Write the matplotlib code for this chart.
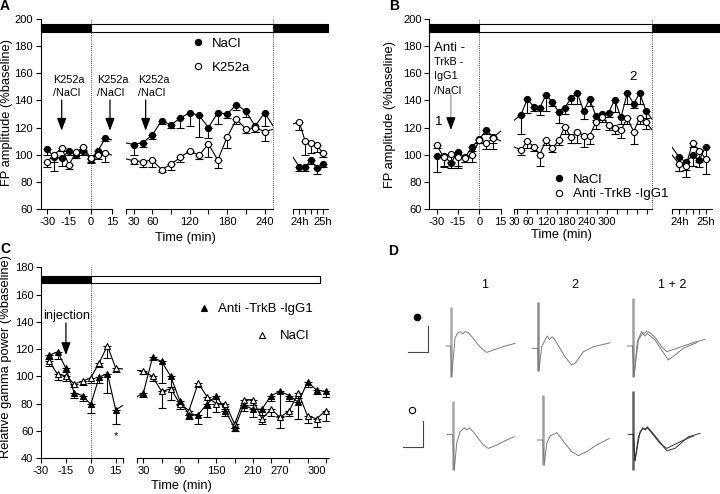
import numpy as np
import matplotlib
matplotlib.use('Agg')
import matplotlib.pyplot as plt
from matplotlib.patches import Rectangle
from matplotlib.lines import Line2D
from matplotlib.ticker import NullLocator

plt.rcParams['font.family'] = ['Liberation Sans', 'DejaVu Sans']
plt.rcParams['axes.linewidth'] = 0.8

# ---------------- data ----------------
A_time = [-30, -25, -20, -15, -10, -5, 0, 5, 10,
          30, 45, 60, 75, 90, 105, 120, 135, 150, 165, 180, 195, 210, 225, 240,
          1440, 1455, 1470, 1485, 1500]
A_nacl = [104, 98, 97.5, 103, 99.5, 103, 97, 103, 112,
          107.5, 109, 114.5, 125, 122, 127, 131, 129, 120, 131, 130, 137, 132, 121, 131,
          91, 91, 96, 90, 93]
A_nacl_sem = [4, 10, 6, 3, 2, 3, 3, 3, 2,
              8, 3, 3, 2, 2, 7, 10, 16, 8, 8, 3, 4, 4, 4, 10,
              3, 3, 3, 4, 2]
A_k252a = [95, 100, 105, 92.5, 102, 105.5, 97.5, 100, 101,
           95.5, 95, 96, 89, 93, 98, 103, 99.5, 108, 96, 113, 126, 119, 120, 117,
           124, 110, 109, 107, 101.5]
A_k252a_sem = [4, 5, 2, 3, 2, 2, 3, 3, 6,
               2, 4, 5, 2, 4, 3, 2, 3, 10, 6, 8, 3, 3, 3, 7,
               6, 10, 8, 5, 3]

B_time = [-30, -25, -20, -15, -10, -5, 0, 5, 10,
          43, 62, 81, 99, 118, 137, 156, 174, 193, 212, 231, 249, 268, 287, 306,
          324, 343, 362, 381, 399, 418,
          1440, 1455, 1470, 1485, 1500]
B_nacl = [99, 99, 94, 102, 98, 106, 111.5, 118, 113,
          129.5, 141, 135.5, 134.5, 144, 138.8, 131.5, 134.7, 141.5, 145.5, 132.4,
          140.8, 128.5, 129.7, 131, 140.5, 127.5, 145.5, 137.5, 145.5, 132.4,
          98, 94.5, 99.5, 96, 106]
B_nacl_sem = [12, 8, 4, 10, 3, 3, 3, 3, 4,
              14, 10, 3, 5, 12, 3, 8, 5, 4, 8, 6, 5, 3, 4, 3, 9, 5, 8, 3, 8, 5,
              10, 6, 8, 5, 10]
B_anti = [107, 98, 100.5, 98.5, 97.5, 100, 110.5, 108.5, 112.5,
          103.5, 110, 106, 100, 111, 104.7, 110.5, 120.5, 113, 117, 114, 114, 124,
          128, 122, 120, 118, 127, 117, 127, 124,
          93, 91.5, 109, 103, 97]
B_anti_sem = [2, 6, 6, 8, 3, 5, 2, 4, 8,
              4, 5, 3, 8, 4, 3, 3, 5, 4, 8, 8, 6, 5, 4, 4, 5, 6, 4, 9, 4, 5,
              5, 8, 3, 8, 11]

C_time = [-25, -20, -15, -10, -5, 0, 5, 10, 15,
          30, 45, 60, 75, 90, 105, 120, 135, 150, 165, 180, 195, 210, 225, 240,
          255, 270, 285, 300, 315, 330]
C_anti = [115.5, 118, 106, 88, 86, 79.5, 99.5, 102, 75.5,
          88, 114, 111, 100, 82, 72, 72, 80, 86, 75, 62, 79, 76, 76, 86, 89, 86,
          81, 96, 90, 89]
C_anti_sem = [3, 5, 3, 4, 4, 6, 4, 14, 10,
              3, 2, 16, 8, 3, 3, 7, 10, 6, 4, 2, 4, 6, 4, 4, 18, 4, 12, 4, 3, 4]
C_nacl = [111, 101.5, 100.5, 94.5, 96.5, 99, 110, 122.5, 106,
          104, 100, 89, 91, 80, 75, 95, 85, 80, 80, 65, 83, 83, 69, 76, 70, 75,
          88, 71, 69, 75]
C_nacl_sem = [3, 4, 4, 2, 3, 4, 3, 9, 3,
              2, 3, 12, 8, 4, 3, 3, 8, 6, 4, 3, 4, 4, 4, 5, 8, 4, 4, 5, 6, 8]

# Panel D traces (time in ms after stimulus, voltage in mV)
D_nacl_1_t = [-0.93, 0, 0.2, 0.87, 1.33, 1.87, 2.4, 2.87, 3.53, 4.53, 5.53, 6.53, 7.2, 8.53, 10.53, 12.87]
D_nacl_1_v = [0, 0, -1.53, 0.38, 0.63, 0.72, 0.6, 0.72, 0.67, 0.38, 0.05, -0.2, -0.32, -0.2, -0.03, 0.13]
D_nacl_2_t = [-1.07, 0, 0.27, 0.8, 1.47, 1.93, 2.33, 2.93, 3.47, 4.47, 5.47, 6.8, 7.47, 9.13, 11.13, 14.47]
D_nacl_2_v = [0, 0, -1.12, 0.08, 0.42, 0.62, 0.45, 0.58, 0.42, 0, -0.42, -0.83, -0.75, -0.17, 0.08, 0.28]
D_nacl_12a_t = [-1, 0, 0.27, 0.93, 1.8, 2.27, 2.8, 3.47, 4.47, 5.8, 6.8, 8.8, 12.13, 14.47]
D_nacl_12a_v = [0, 0, -1.53, 0.22, 0.72, 0.63, 0.72, 0.67, 0.43, -0.03, -0.28, -0.12, 0.17, 0.33]
D_nacl_12b_t = [0, 0.27, 1.13, 2, 2.47, 2.93, 4.47, 5.8, 7.13, 8.47, 10.13, 12.8]
D_nacl_12b_v = [0, -1.53, 0.3, 0.63, 0.5, 0.63, 0.3, -0.2, -0.7, -0.45, -0.12, 0.17]
D_anti_1_t = [-1.07, 0, 0.33, 0.8, 1.47, 2.33, 2.8, 3.33, 4.13, 5.13, 6.13, 7.13, 8.8, 10.8, 12.27]
D_anti_1_v = [0, 0, -1.78, -0.45, 0.13, 0.33, 0.22, 0.33, 0.13, -0.2, -0.53, -0.7, -0.53, -0.28, -0.12]
D_anti_2_t = [-1.07, 0, 0.33, 0.8, 1.47, 2.33, 2.8, 3.47, 4.47, 5.8, 7.13, 8.8, 10.8, 13.33]
D_anti_2_v = [0, 0, -1.25, -0.17, 0.2, 0.3, 0.37, 0.17, -0.17, -0.58, -0.78, -0.58, -0.25, 0.08]
D_anti_12a_t = [-1, 0, 0.33, 1, 1.87, 2.33, 2.8, 3.67, 5, 6.67, 8.33, 11, 13.33]
D_anti_12a_v = [0, 0, -1.32, -0.12, 0.33, 0.25, 0.38, 0.13, -0.28, -0.82, -0.7, -0.12, 0.05]
D_anti_12b_t = [0, 0.33, 1.33, 2, 2.4, 2.8, 4, 5.33, 6.67, 9.33, 12]
D_anti_12b_v = [0, -1.32, 0.13, 0.3, 0.22, 0.33, -0.03, -0.45, -0.7, -0.37, -0.08]
D_artifact = [(1.93, -1.53), (2.33, -1.12), (2.38, -1.53),
              (1.68, -1.78), (2.25, -1.25), (2.18, -1.78)]
D_scale_ms, D_scale_mv = 4.0, 1.3

# ---------------- layout helpers ----------------
W, H = 720, 494
fig = plt.figure(figsize=(7.2, 4.94), dpi=100)


def fx(x):
    return x / W


def fy(y):
    return 1 - y / H


def make_scale(segs):
    T, U = [], []
    t0, t1, u0, u1 = segs[0]
    s = (u1 - u0) / (t1 - t0)
    T.append(t0 - 1e4); U.append(u0 - 1e4 * s)
    for t0, t1, u0, u1 in segs:
        T += [t0, t1]; U += [u0, u1]
    t0, t1, u0, u1 = segs[-1]
    s = (u1 - u0) / (t1 - t0)
    T.append(t1 + 1e4); U.append(u1 + 1e4 * s)
    T = np.array(T, float); U = np.array(U, float)
    return (lambda t: np.interp(t, T, U)), (lambda u: np.interp(u, U, T))


def make_panel(segs, ylim, ytop, ybot, yticks, ticks_list, labels_list):
    fwd, inv = make_scale(segs)
    axes = []
    for i, (t0, t1, u0, u1) in enumerate(segs):
        ax = fig.add_axes([fx(u0), fy(ybot), (u1 - u0) / W, (ybot - ytop) / H])
        ax.set_xscale('function', functions=(fwd, inv))
        ax.set_xlim(t0, t1)
        ax.set_ylim(*ylim)
        ax.patch.set_visible(False)
        for sp in ['top', 'right']:
            ax.spines[sp].set_visible(False)
        ax.tick_params(direction='out', length=3.5, width=0.8, labelsize=8, pad=2)
        if i > 0:
            ax.spines['left'].set_visible(False)
            ax.tick_params(axis='y', left=False, labelleft=False)
        else:
            ax.set_yticks(yticks)
        ax.set_xticks(ticks_list[i])
        ax.set_xticklabels(labels_list[i])
        ax.xaxis.set_minor_locator(NullLocator())
        ax.yaxis.set_minor_locator(NullLocator())
        axes.append(ax)
    return axes


def plot_series(axes, t, y, err, marker, filled, ms, z):
    for ax in axes:
        ax.errorbar(t, y, yerr=[err, np.zeros(len(err))], fmt='none', ecolor='black',
                    elinewidth=0.8, capsize=2.8, capthick=0.8, zorder=2)
        ax.plot(t, y, '-', color='black', lw=0.8, marker=marker, ms=ms,
                mfc='black' if filled else 'white', mec='black', mew=0.8, zorder=z)


def legend_entry(marker, filled, label, xm, ym, fs=9.5, ms=4.5, pad=0.55):
    h = Line2D([], [], ls='none', marker=marker, ms=ms, mfc='black' if filled else 'white',
               mec='black', mew=0.8)
    fs_px = fs * 100 / 72
    fig.legend([h], [label], loc='center left', bbox_to_anchor=(fx(xm - fs_px / 2), fy(ym)),
               frameon=False, fontsize=fs, handlelength=1.0, handletextpad=pad,
               borderpad=0, borderaxespad=0, numpoints=1)


def arrow(ax, x, y_tail, y_tip, color='black', head=True):
    style = '-|>,head_length=0.75,head_width=0.28' if head else '-'
    ax.annotate('', xy=(x, y_tip), xytext=(x, y_tail),
                arrowprops=dict(arrowstyle=style, color=color, lw=0.9,
                                shrinkA=0, shrinkB=0))


def bars(ax, spans, y0, h):
    for t0, t1, fc in spans:
        ax.add_patch(Rectangle((t0, y0), t1 - t0, h, fc=fc, ec='black', lw=0.8,
                               clip_on=False, zorder=5))


def ftext(x, y, s, **kw):
    kw.setdefault('fontsize', 8)
    kw.setdefault('ha', 'left')
    kw.setdefault('va', 'center')
    fig.text(fx(x), fy(y), s, **kw)


def tick_label(ax, t, s, dx_pt, fs=7.5):
    ax.annotate(s, xy=(t, 0), xycoords=('data', 'axes fraction'),
                xytext=(dx_pt, -5.5), textcoords='offset points',
                ha='center', va='top', fontsize=fs)


MS = 4.4

# ---------------- Panel A ----------------
A_segs = [(-34.6, 15, 40.5, 112.45), (17.5, 253, 125.7, 272.7), (1424.6, 1514.4, 293.3, 328.3)]
A_ticks = [[-30, -15, 0, 15], [17.5, 30, 60, 90, 120, 150, 180, 210, 240],
           [1424.6, 1440, 1455, 1470, 1485, 1500]]
A_labels = [['-30', '-15', '0', '15'], ['', '30', '60', '', '120', '', '180', '', '240'],
            ['', '24h', '', '', '', '25h']]
axA = make_panel(A_segs, (60, 200), 19, 209, range(60, 201, 20), A_ticks, A_labels)
plot_series(axA, A_time, A_nacl, A_nacl_sem, 'o', True, MS, 3)
plot_series(axA, A_time, A_k252a, A_k252a_sem, 'o', False, MS, 4)
bars(axA[0], [(-34.6, 0, 'black'), (0, 253, 'white'), (253, 1514.4, 'black')], 190.6, 5.5)
axA[0].axvline(0, color='#444', ls=(0, (1, 1.2)), lw=0.7)
axA[1].axvline(253, color='#444', ls=(0, (1, 1.2)), lw=0.7, clip_on=False)
arrow(axA[0], -20, 140.3, 117.7)
arrow(axA[0], 13.3, 140.3, 117.7)
arrow(axA[1], 49.5, 140.3, 117.7)
for xl in (53, 97, 138):
    ftext(xl, 80, 'K252a', fontsize=7.8)
    ftext(xl, 92.5, '/NaCl', fontsize=7.8)
legend_entry('o', True, 'NaCl', 198, 44)
legend_entry('o', False, 'K252a', 198, 68)
ftext(7.5, 113, 'FP amplitude (%baseline)', fontsize=9.3, rotation=90, ha='center')
ftext(185, 237.5, 'Time (min)', fontsize=9.3, ha='center')
ftext(5, 6.5, 'A', fontsize=10, fontweight='bold', ha='center')

# ---------------- Panel B ----------------
B_segs = [(-35.2, 15, 429.3, 500.6), (23, 437, 514.3, 652.3), (1422.7, 1532.5, 671.7, 720)]
B_ticks = [[-30, -15, 0, 15],
           [23] + list(range(30, 421, 30)),
           [1422.7, 1440, 1455, 1470, 1485, 1500]]
B_lab2 = [''] + ['' for _ in range(30, 421, 30)]
for v, s in [(120, '120'), (180, '180'), (240, '240'), (300, '300')]:
    B_lab2[1 + (v - 30) // 30] = s
B_labels = [['-30', '-15', '0', '15'], B_lab2, ['', '24h', '', '', '', '25h']]
axB = make_panel(B_segs, (60, 200), 19, 209, range(60, 201, 20), B_ticks, B_labels)
tick_label(axB[1], 30, '30', -1.95)
tick_label(axB[1], 60, '60', 0.95)
axB[2].spines['bottom'].set_bounds(1422.7, 1514)
plot_series(axB, B_time, B_nacl, B_nacl_sem, 'o', True, MS, 3)
plot_series(axB, B_time, B_anti, B_anti_sem, 'o', False, MS, 4)
bars(axB[0], [(-35.2, 0, 'black'), (0, 437, 'white'), (437, 1540, 'black')], 190.6, 5.5)
axB[0].axvline(0, color='#444', ls=(0, (1, 1.2)), lw=0.7)
axB[1].axvline(437, color='#444', ls=(0, (1, 1.2)), lw=0.7, clip_on=False)
arrow(axB[0], -20, 144, 124, color='#999999', head=False)
arrow(axB[0], -20, 126.5, 118.2)
ftext(434, 47.7, 'Anti -', fontsize=9.5)
ftext(434, 62.3, 'TrkB -', fontsize=7.8)
ftext(434, 75.7, 'IgG1', fontsize=7.8)
ftext(434, 91, '/NaCl', fontsize=7.8)
ftext(439, 122, '1', fontsize=9.5, ha='center')
ftext(632.7, 76.7, '2', fontsize=9.5, ha='center')
legend_entry('o', True, 'NaCl', 559.3, 180)
legend_entry('o', False, 'Anti -TrkB -IgG1', 559.3, 194.3)
ftext(390, 114, 'FP amplitude (%baseline)', fontsize=9.3, rotation=90, ha='center')
ftext(561, 235, 'Time (min)', fontsize=9.3, ha='center')
ftext(394, 6.5, 'B', fontsize=10, fontweight='bold', ha='center')

# ---------------- Panel C ----------------
C_segs = [(-30, 19.5, 41, 123.2), (19.6, 336, 137.1, 329.4)]
C_ticks = [[-30, -15, 0, 15, 19.5], [19.6] + list(range(30, 331, 30))]
C_lab2 = [''] + ['' for _ in range(30, 331, 30)]
for v, s in [(30, '30'), (90, '90'), (150, '150'), (210, '210'), (270, '270'), (300, '300')]:
    C_lab2[1 + (v - 30) // 30] = s
C_labels = [['-30', '-15', '0', '15', ''], C_lab2]
axC = make_panel(C_segs, (40, 180), 267.3, 458.3, range(40, 181, 20), C_ticks, C_labels)
axC[1].get_xticklabels()[1 + (300 - 30) // 30].set_ha('left')
axC[1].get_xticklabels()[1 + (270 - 30) // 30].set_ha('right')
plot_series(axC, C_time, C_nacl, C_nacl_sem, '^', False, 5.0, 3)
plot_series(axC, C_time, C_anti, C_anti_sem, '^', True, 5.0, 4)
bars(axC[0], [(-30, 0, 'black'), (0, 320, 'white')], 168.3, 5.3)
axC[0].axvline(0, color='#444', ls=(0, (1, 1.2)), lw=0.7)
arrow(axC[0], -15, 139.2, 115.7)
ftext(43, 315.7, 'injection', fontsize=9.2)
ftext(116, 436, '*', fontsize=8, ha='center')
legend_entry('^', True, 'Anti -TrkB -lgG1', 203.7, 309.3, ms=5.0)
legend_entry('^', False, 'NaCl', 261.7, 336, ms=5.0, pad=0.9)
ftext(6, 357, 'Relative gamma power (%baseline)', fontsize=9.3, rotation=90, ha='center')
ftext(181, 486, 'Time (min)', fontsize=9.3, ha='center')
ftext(5, 249, 'C', fontsize=10, fontweight='bold', ha='center')

# ---------------- Panel D ----------------
axD = fig.add_axes([0.5, 0, 0.5, 244 / H])
axD.set_xlim(0, 72)
axD.set_ylim(0, 12.2)
axD.axis('off')
cells = [
    ((18.13, 7.4), [(D_nacl_1_t, D_nacl_1_v)], '#7a7a7a', '#a8a8a8'),
    ((35.53, 7.28), [(D_nacl_2_t, D_nacl_2_v)], '#7a7a7a', '#8c8c8c'),
    ((54.53, 7.4), [(D_nacl_12a_t, D_nacl_12a_v), (D_nacl_12b_t, D_nacl_12b_v)], '#7a7a7a', '#a0a0a0'),
    ((18.53, 2.98), [(D_anti_1_t, D_anti_1_v)], '#7a7a7a', '#a8a8a8'),
    ((36.53, 2.7), [(D_anti_2_t, D_anti_2_v)], '#7a7a7a', '#a0a0a0'),
    ((54.67, 2.98), [(D_anti_12a_t, D_anti_12a_v), (D_anti_12b_t, D_anti_12b_v)], '#303030', '#606060'),
]
for k, ((ox, oy), traces, col, acol) in enumerate(cells):
    top, bot = D_artifact[k]
    axD.plot([ox, ox], [oy + bot, oy + top], color=acol, lw=1.8, solid_capstyle='butt')
    for tt, vv in traces:
        axD.plot(np.array(tt) + ox, np.array(vv) + oy, color=col, lw=0.7)
# scale bars
for (sx, sy) in [(13.53, 7.12), (12.67, 2.37)]:
    axD.plot([sx - D_scale_ms, sx, sx], [sy, sy, sy + D_scale_mv], color='#444', lw=0.8)
axD.plot([11.33], [8.87], 'o', ms=4.5, mfc='black', mec='black')
axD.plot([10.47], [4.2], 'o', ms=4.5, mfc='white', mec='black', mew=0.8)
ftext(485, 285, '1', fontsize=9, ha='center')
ftext(575, 285, '2', fontsize=9, ha='center')
ftext(672.3, 285, '1 + 2', fontsize=9, ha='center')
ftext(393, 251, 'D', fontsize=10, fontweight='bold', ha='center')

fig.savefig('out.png', dpi=100)
